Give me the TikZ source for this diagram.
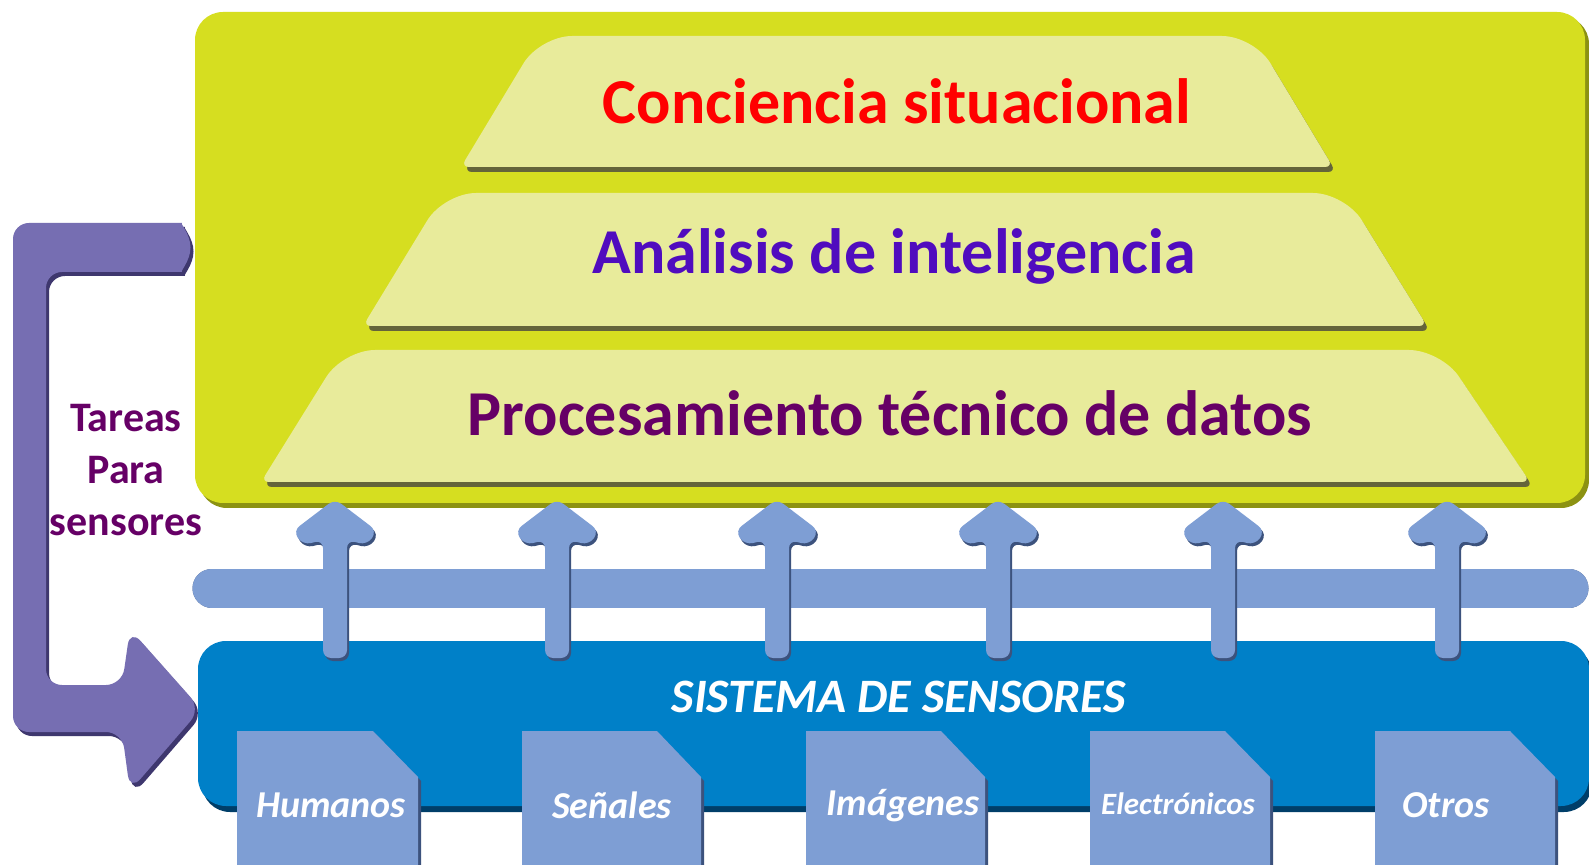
\documentclass[tikz,border=0pt]{standalone}
\usepackage{fontspec}
\setmainfont{Carlito}
\definecolor{greenbg}{RGB}{214,222,32}
\definecolor{greensh}{RGB}{140,146,18}
\definecolor{trapfill}{RGB}{232,235,155}
\definecolor{trapsh}{RGB}{100,100,58}
\definecolor{arrowblue}{RGB}{126,158,212}
\definecolor{arrowsh}{RGB}{60,82,125}
\definecolor{sysblue}{RGB}{0,128,200}
\definecolor{syssh}{RGB}{0,62,105}
\definecolor{bracketc}{RGB}{118,110,178}
\definecolor{bracketsh}{RGB}{62,55,110}
\definecolor{txtred}{RGB}{255,0,0}
\definecolor{txtviolet}{RGB}{80,12,190}
\definecolor{txtplum}{RGB}{102,0,102}
\tikzset{
  layertext/.style={font=\fontsize{32}{36}\selectfont\bfseries, inner sep=0pt},
  doctext/.style={font=\fontsize{19}{23}\selectfont\bfseries\itshape, text=white, inner sep=0pt},
}
\newcommand{\trapez}[6]{%
  \begin{scope}[shift={(3,5)}]
  \fill[trapsh] (#1,#6) [rounded corners=16pt] -- (#3,#5) -- (#4,#5) [rounded corners=4pt] -- (#2,#6) -- cycle;
  \end{scope}
  \fill[trapfill] (#1,#6) [rounded corners=16pt] -- (#3,#5) -- (#4,#5) [rounded corners=4pt] -- (#2,#6) -- cycle;
}
\newcommand{\uparrowshape}[1]{%
  \begin{scope}[shift={(#1,0)}]
  \fill[arrowsh, rounded corners=4pt, shift={(2,3)}] (0,499) -- (42,531) -- (32,545) -- (12,540) -- (12,658) -- (-12,658) -- (-12,540) -- (-32,545) -- (-42,531) -- cycle;
  \fill[arrowblue, rounded corners=4pt] (0,499) -- (42,531) -- (32,545) -- (12,540) -- (12,658) -- (-12,658) -- (-12,540) -- (-32,545) -- (-42,531) -- cycle;
  \end{scope}
}
\newcommand{\docshape}[3]{%
  \fill[arrowsh] (#1+3,868) -- (#1+3,735) -- (#3+3,735) -- (#2+3,781) -- (#2+3,868) -- cycle;
  \fill[arrowblue] (#1,865) -- (#1,731) -- (#3,731) -- (#2,777) -- (#2,865) -- cycle;
}
\newcommand{\bracketpath}{(13,478) -- (13,732) -- (122,732) -- (130,791) -- (201,709) -- (130,629) -- (122,685) -- (46,685) -- (46,272) -- (166,272) arc[start angle=90, end angle=-90, radius=24.5] -- (13,223) -- cycle}
\begin{document}
\begin{tikzpicture}[x=0.5pt,y=-0.5pt]
\useasboundingbox (0,0) rectangle (1589,865);
\fill[white] (0,0) rectangle (1589,865);

% green panel
\fill[greensh, rounded corners=14pt] (199,16) rectangle (1589,508);
\fill[greenbg, rounded corners=14pt] (195,12) rectangle (1585,503);

% layers
\trapez{461}{1333}{540}{1254}{36}{167}
\trapez{363}{1427}{444}{1345}{193}{326}
\trapez{261}{1530}{343}{1441}{350}{482}
\node[layertext, text=txtred] (l3) at (897,101) {Conciencia situacional};
\node[layertext, text=txtviolet] (l2) at (894,256) {Análisis de inteligencia};
\node[layertext, text=txtplum] (l1) at (890,413) {Procesamiento técnico de datos};

% sensor system box
\fill[syssh, rounded corners=14pt] (202,646) rectangle (1592,812);
\fill[sysblue, rounded corners=14pt] (198,641) rectangle (1589,806);
\node[font=\fontsize{24}{28}\selectfont\bfseries\itshape, text=white, inner sep=0pt] (sys) at (899,697) {SISTEMA DE SENSORES};

% horizontal bus
\coordinate (busL) at (212,588);
\coordinate (busR) at (1569,588);
\draw[arrowsh, line width=19.5pt, line cap=round, shift={(1,3)}] (busL) -- (busR);
\draw[arrowblue, line width=19.5pt, line cap=round] (busL) -- (busR);

% up arrows
\foreach \ax in {335,557,777,998,1223,1447} {\uparrowshape{\ax}}

% sensor documents
\docshape{237}{418}{373}
\docshape{522}{701}{657}
\docshape{806}{985}{941}
\docshape{1090}{1270}{1225}
\docshape{1375}{1555}{1510}
\node[doctext] (d1) at (331,805) {Humanos};
\node[doctext] (d2) at (612,805) {Señales};
\node[doctext] (d3) at (903,806) {Imágenes};
\node[doctext, font=\fontsize{15.5}{18}\selectfont\bfseries\itshape] (d4) at (1178,804) {Electrónicos};
\node[doctext] (d5) at (1446,805) {Otros};

% tasking bracket arrow
\begin{scope}[shift={(3,4)}]
\fill[bracketsh, rounded corners=8pt] \bracketpath;
\end{scope}
\fill[bracketc, rounded corners=8pt] \bracketpath;
\node[font=\fontsize{21}{26}\selectfont\bfseries, text=txtplum, align=center, inner sep=0pt] (tasks) at (126,470) {Tareas\\Para\\sensores};
\end{tikzpicture}
\end{document}
